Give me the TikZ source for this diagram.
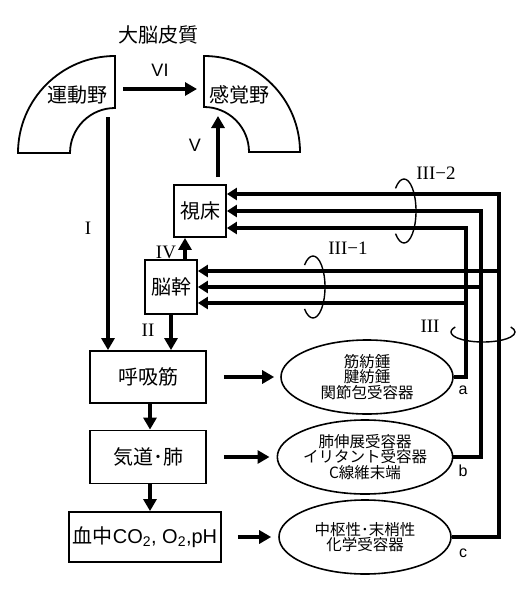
\documentclass[tikz,border=0pt]{standalone}
\usepackage{fontspec}
\setmainfont{Noto Sans CJK JP}
\newfontfamily\lat{Liberation Sans}
\newfontfamily\rom{Liberation Serif}
\usetikzlibrary{shapes.geometric, positioning, arrows.meta}
\tikzset{
area/.style={draw, line width=1.8pt}, big/.style={font=\fontsize{20}{20}\selectfont},
box/.style={draw, line width=1.8pt, inner sep=0, font=\fontsize{20}{22}\selectfont},
recep/.style={ellipse, draw, line width=1.6pt, minimum width=172pt, minimum height=74pt, inner sep=0, align=center, font=\fontsize{15.5}{15.5}\selectfont},
flow/.style={line width=4.5pt, -{Triangle[length=12pt, width=13pt]}}, fb/.style={line width=4.5pt, -{Triangle[length=10pt, width=12pt]}},
ring/.style={line width=1.4pt}, num/.style={font=\rom\fontsize{19}{19}\selectfont}, snum/.style={font=\lat\fontsize{18}{18}\selectfont}}

\begin{document}
\begin{tikzpicture}[x=1pt, y=1pt]
\useasboundingbox (0,0) rectangle (530,-600);
% cortex
\node [big] (cortex) at (158,-35) {大脳皮質};
\draw [area] (115,-56) arc [start angle=90, end angle=180, radius=97] -- (70,-153) arc [start angle=180, end angle=90, radius=45] -- cycle;
\draw [area] (204,-56) arc [start angle=90, end angle=0, radius=96] -- (249,-152) arc [start angle=0, end angle=90, radius=45] -- cycle;
\node [big] (motor) at (77,-95) {運動野};
\node [big] (sensory) at (239,-95) {感覚野};
\coordinate (motor-e) at (123,-89);
\coordinate (sensory-w) at (197,-89);
\coordinate (motor-s) at (108,-117);
\coordinate (sensory-s) at (218,-116);

% boxes
\node [box, minimum width=52pt, minimum height=52pt] (thal) at (200,-211) {視床};
\node [box, minimum width=52pt, minimum height=54pt] (stem) at (171,-287) {脳幹};
\node [box, minimum width=116pt, minimum height=52pt] (resp) at (148,-377) {呼吸筋};
\node [box, minimum width=116pt, minimum height=53pt] (lung) at (148,-457) {気道･肺};
\node [box, minimum width=152pt, minimum height=50pt] (blood) at (145,-537) {血中{\lat CO\textsubscript{2}, O\textsubscript{2},pH}};

% receptors
\node [recep] (rec-a) at (367,-377) {筋紡錘\\腱紡錘\\関節包受容器};
\node [recep] (rec-b) at (365,-457) {肺伸展受容器\\イリタント受容器\\C線維末端};
\node [recep] (rec-c) at (365,-537) {中枢性･末梢性\\化学受容器};
\node [font=\lat\fontsize{16}{16}\selectfont] at (463,-390) (lab-a) {a};
\node [font=\lat\fontsize{16}{16}\selectfont] at (463,-471) (lab-b) {b};
\node [font=\lat\fontsize{16}{16}\selectfont] at (463,-553) (lab-c) {c};

% efferent
\draw [flow] (motor-e) -- (sensory-w);
\draw [flow] (motor-s) -- (motor-s |- resp.north);
\draw [flow] (stem.south) -- (stem.south |- resp.north);
\draw [flow] ([xshift=14pt]stem.north) -- ([xshift=14pt]stem.north |- thal.south);
\draw [flow, shorten <=7pt] ([xshift=18pt]thal.north) -- (sensory-s);
\draw [flow] ([xshift=2pt]resp.south) -- ([xshift=2pt]lung.north);
\draw [flow] ([xshift=2pt]lung.south) -- ([xshift=2pt]lung.south |- blood.north);
\draw [flow, shorten <=17pt, shorten >=6pt] (resp.east) -- (rec-a.west);
\draw [flow, shorten <=17pt, shorten >=7pt] (lung.east) -- (rec-b.west);
\draw [flow, shorten <=16pt, shorten >=7pt] (blood.east) -- (rec-c.west);

% afferent
\foreach \s/\cx/\dt/\ds in {a/466/-17/-16, b/481/0/0, c/499/17/16}{
      \coordinate (col-\s) at (\cx,0);
      \coordinate (th-\s) at ([yshift=\dt pt]thal.east);
      \coordinate (bs-\s) at ([yshift=\ds pt]stem.east);
      \draw [fb] (rec-\s.east) -| (col-\s |- th-\s) -- (th-\s);
      \draw [fb] (col-\s |- bs-\s) -- (bs-\s);
}
\draw [ring] (404,-211) ++(135:12 and 32) arc [start angle=135, end angle=-135, x radius=12, y radius=32];
\draw [ring] (313,-287) ++(135:12 and 31) arc [start angle=135, end angle=-135, x radius=12, y radius=31];
\draw [ring] (483,-332) ++(150:32 and 10) arc [start angle=150, end angle=390, x radius=32, y radius=10];

% labels
\node [snum] (n-vi) at (160,-70) {VI};
\node [snum] (n-v) at (195,-145) {V};
\node [num] (n-i) at (88,-228) {I};
\node [num] (n-ii) at (148,-330) {II};
\node [num] (n-iv) at (166,-252) {IV};
\node [num] (n-iii2) at (436,-173) {III−2};
\node [num] (n-iii1) at (348,-248) {III−1};
\node [num] (n-iii) at (430,-326) {III};
\end{tikzpicture}
\end{document}
